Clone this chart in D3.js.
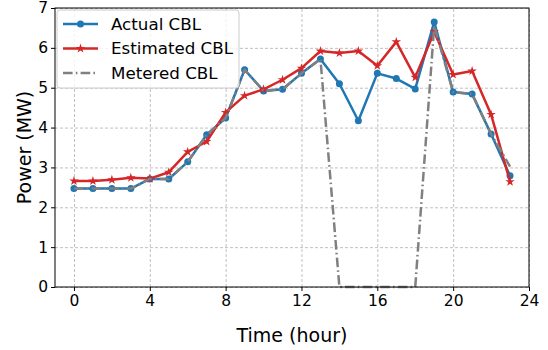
<!DOCTYPE html>
<html>
<head>
<meta charset="utf-8">
<script src="https://cdn.jsdelivr.net/npm/d3@7"></script>
<style>
  body { margin: 0; background: #fff; }
  svg text { font-family: "DejaVu Sans", sans-serif; fill: #000; }
  .grid line { stroke: #b0b0b0; stroke-width: 0.8; stroke-dasharray: 3,2; }
  .grid .domain { display: none; }
</style>
</head>
<body>
<svg id="chart" width="548" height="350"></svg>
<script>
var hours = d3.range(0, 24);
var actualCBL = [2.47, 2.47, 2.47, 2.47, 2.71, 2.71, 3.14, 3.82, 4.24, 5.45, 4.92, 4.96,
                 5.36, 5.72, 5.10, 4.17, 5.36, 5.23, 4.97, 6.65, 4.89, 4.84, 3.84, 2.79];
var estimatedCBL = [2.66, 2.66, 2.69, 2.74, 2.72, 2.88, 3.39, 3.65, 4.38, 4.80, 4.96, 5.20,
                    5.49, 5.92, 5.87, 5.92, 5.55, 6.15, 5.26, 6.40, 5.33, 5.42, 4.33, 2.64];
var meteredCBL = [2.47, 2.47, 2.47, 2.47, 2.71, 2.71, 3.14, 3.82, 4.24, 5.45, 4.92, 4.96,
                  5.36, 5.72, 0, 0, 0, 0, 0, 6.55, 4.89, 4.84, 3.84, 3.02];
var xTicks = [0, 4, 8, 12, 16, 20, 24];
var yTicks = [0, 1, 2, 3, 4, 5, 6, 7];

var svg = d3.select("svg#chart"),
    margin = {top: 8, right: 19, bottom: 63, left: 55},
    width = +svg.attr("width") - margin.left - margin.right,
    height = +svg.attr("height") - margin.top - margin.bottom;

var x = d3.scaleLinear().domain([-1, 24]).range([0, width]),
    y = d3.scaleLinear().domain([0, 7]).range([height, 0]);

var g = svg.append("g")
    .attr("transform", "translate(" + margin.left + "," + margin.top + ")");

// grid
g.append("g")
    .attr("class", "grid")
    .attr("transform", "translate(0," + height + ")")
    .call(d3.axisBottom(x).tickValues(xTicks).tickSize(-height).tickFormat(""));
g.append("g")
    .attr("class", "grid")
    .call(d3.axisLeft(y).tickValues(yTicks).tickSize(-width).tickFormat(""));

var line = d3.line()
    .x(function(d, i) { return x(hours[i]); })
    .y(function(d) { return y(d); });

// actual
g.append("path")
    .datum(actualCBL)
    .attr("fill", "none")
    .attr("stroke", "#1f77b4")
    .attr("stroke-width", 2.5)
    .attr("stroke-linejoin", "round")
    .attr("d", line);
g.selectAll(".dot")
    .data(actualCBL)
    .enter().append("circle")
    .attr("class", "dot")
    .attr("cx", function(d, i) { return x(hours[i]); })
    .attr("cy", function(d) { return y(d); })
    .attr("r", 3.5)
    .attr("fill", "#1f77b4");

// estimated
var star = d3.symbol().type(d3.symbolStar).size(28);
g.append("path")
    .datum(estimatedCBL)
    .attr("fill", "none")
    .attr("stroke", "#d62728")
    .attr("stroke-width", 2.5)
    .attr("stroke-linejoin", "round")
    .attr("d", line);
g.selectAll(".star")
    .data(estimatedCBL)
    .enter().append("path")
    .attr("class", "star")
    .attr("transform", function(d, i) { return "translate(" + x(hours[i]) + "," + y(d) + ")"; })
    .attr("d", star)
    .attr("fill", "#d62728");

// metered
g.append("path")
    .datum(meteredCBL)
    .attr("fill", "none")
    .attr("stroke", "#808080")
    .attr("stroke-width", 2.5)
    .attr("stroke-dasharray", "9.6,3.2,1.6,3.2")
    .attr("stroke-linejoin", "round")
    .attr("d", line);

// axes
var xAxis = g.append("g")
    .attr("transform", "translate(0," + height + ")")
    .call(d3.axisBottom(x).tickValues(xTicks).tickSize(4).tickPadding(4).tickFormat(d3.format("d")));
var yAxis = g.append("g")
    .call(d3.axisLeft(y).tickValues(yTicks).tickSize(4).tickPadding(3).tickFormat(d3.format("d")));
[xAxis, yAxis].forEach(function(a) {
    a.selectAll("text").style("font-size", "15.5px").style("font-family", "DejaVu Sans");
    a.selectAll("line").attr("stroke", "#000");
    a.select(".domain").remove();
});

// frame
g.append("rect")
    .attr("width", width)
    .attr("height", height)
    .attr("fill", "none")
    .attr("stroke", "#000")
    .attr("stroke-width", 1);

// labels
svg.append("text")
    .attr("x", margin.left + width / 2)
    .attr("y", 342)
    .attr("text-anchor", "middle")
    .style("font-size", "19px")
    .text("Time (hour)");
svg.append("text")
    .attr("transform", "translate(31," + (margin.top + height / 2) + ") rotate(-90)")
    .attr("text-anchor", "middle")
    .style("font-size", "19px")
    .text("Power (MW)");

// legend
var legend = g.append("g").attr("transform", "translate(2,2)");
legend.append("rect")
    .attr("width", 182)
    .attr("height", 78)
    .attr("rx", 3)
    .attr("fill", "#fff")
    .attr("fill-opacity", 0.8)
    .attr("stroke", "#cccccc");
var items = [
    {name: "Actual CBL", color: "#1f77b4", dash: null, mark: "dot"},
    {name: "Estimated CBL", color: "#d62728", dash: null, mark: "star"},
    {name: "Metered CBL", color: "#808080", dash: "9.6,3.2,1.6,3.2", mark: null}
];
items.forEach(function(it, i) {
    var ly = 14 + i * 24.5;
    legend.append("line")
        .attr("x1", 6).attr("x2", 41)
        .attr("y1", ly).attr("y2", ly)
        .attr("stroke", it.color)
        .attr("stroke-width", 2.5)
        .attr("stroke-dasharray", it.dash);
    if (it.mark == "dot") {
        legend.append("circle").attr("cx", 23.5).attr("cy", ly).attr("r", 3.5).attr("fill", it.color);
    } else if (it.mark == "star") {
        legend.append("path").attr("transform", "translate(23.5," + ly + ")").attr("d", star).attr("fill", it.color);
    }
    legend.append("text")
        .attr("x", 54)
        .attr("y", ly)
        .attr("dy", "0.35em")
        .style("font-size", "16.7px")
        .text(it.name);
});
</script>
</body>
</html>
